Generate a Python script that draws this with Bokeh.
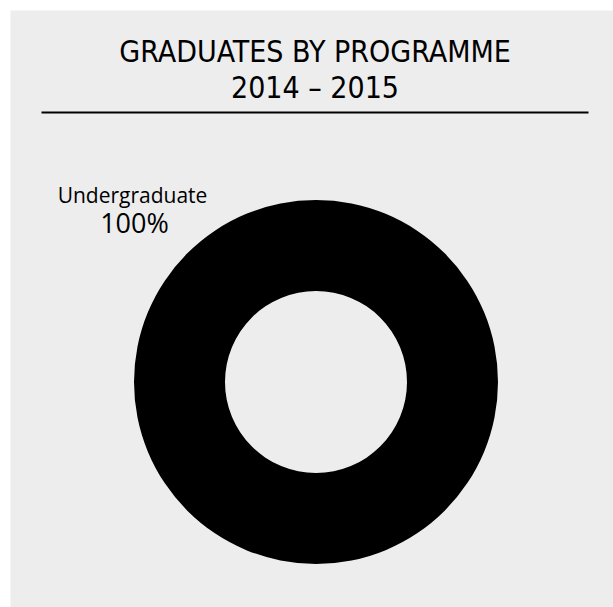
import numpy as np
from bokeh.plotting import figure
from bokeh.models import Range1d, ColumnDataSource
from bokeh.core.properties import value
from bokeh.embed import file_html
from bokeh.resources import INLINE

# ---- data ----
categories = ["Undergraduate"]
percent = [100]
title_lines = ["GRADUATES BY PROGRAMME", "2014 \u2013 2015"]

BG = "#ededed"

p = figure(width=613, height=607, output_backend="svg", toolbar_location=None,
           x_range=Range1d(10, 613), y_range=Range1d(607, 10),
           min_border_left=10, min_border_top=10, min_border_right=0, min_border_bottom=0,
           background_fill_color=BG, border_fill_color="white", outline_line_color=None)
p.axis.visible = False
p.grid.visible = False

# donut from data
vals = np.array(percent, dtype=float)
frac = vals / vals.sum()
ends = np.cumsum(frac) * 2 * np.pi
starts = ends - frac * 2 * np.pi
src = ColumnDataSource(dict(cat=categories, start=list(starts), end=list(ends),
                            x=[315.5] * len(categories), y=[381.5] * len(categories),
                            color=["black"] * len(categories)))
p.annular_wedge(x="x", y="y", inner_radius=91, outer_radius=182,
                inner_radius_units="screen", outer_radius_units="screen",
                start_angle="start", end_angle="end", fill_color="color",
                line_color=None, source=src)

# title
p.text(x=[314.5, 314.5], y=[51, 87], text=title_lines, text_align="center",
       text_baseline="alphabetic", text_font=value("DejaVu Sans Condensed"),
       text_font_size="30px", text_color="black")
p.segment(x0=[41], y0=[112], x1=[588], y1=[112], line_color="black", line_width=2)

# slice label
labels = [f"{c}" for c in categories]
pcts = [f"{v}%" for v in percent]
p.text(x=[132], y=[194], text=labels, text_align="center", text_baseline="alphabetic",
       text_font=value("Open Sans"), text_font_size="21px", text_color="black")
p.text(x=[134], y=[222], text=pcts, text_align="center", text_baseline="alphabetic",
       text_font=value("Open Sans"), text_font_size="27px", text_color="black")

open("out.html", "w").write(file_html(p, INLINE))
